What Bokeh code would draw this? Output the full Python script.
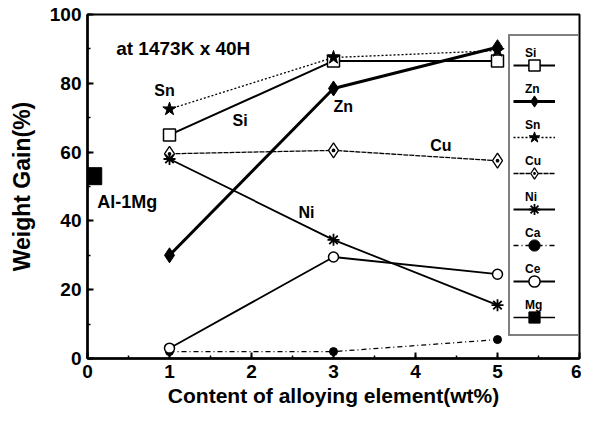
from bokeh.plotting import figure
from bokeh.models import Legend, LegendItem, Label, SingleIntervalTicker, Range1d
from bokeh.embed import file_html
from bokeh.resources import INLINE

# ---- data ----
content = [1, 3, 5]
si = [65.0, 86.5, 86.5]
zn = [30.0, 78.5, 90.5]
sn = [72.5, 87.5, 89.5]
cu = [59.5, 60.5, 57.5]
ni = [58.0, 34.5, 15.5]
ca = [2.0, 2.0, 5.5]
ce = [3.0, 29.5, 24.5]
mg_content = [0.07]
mg = [53.0]
legend_names = ["Si", "Zn", "Sn", "Cu", "Ni", "Ca", "Ce", "Mg"]

FONT = "Liberation Sans"

p = figure(width=581, height=412, output_backend="svg", toolbar_location=None,
           x_range=Range1d(0, 6), y_range=Range1d(0, 100),
           min_border_left=87, min_border_right=2, min_border_top=14, min_border_bottom=54)
p.xgrid.visible = False
p.ygrid.visible = False
p.outline_line_color = "black"
p.outline_line_width = 2
p.background_fill_color = "white"
p.border_fill_color = "white"

p.xaxis.ticker = SingleIntervalTicker(interval=1, num_minor_ticks=2)
p.yaxis.ticker = SingleIntervalTicker(interval=20, num_minor_ticks=2)
p.axis.major_tick_in = 6
p.axis.major_tick_out = 0
p.axis.minor_tick_in = 3
p.axis.minor_tick_out = 0
p.axis.axis_line_width = 2.5
p.axis.major_tick_line_width = 2
p.axis.minor_tick_line_width = 1.5
p.axis.major_label_text_font = FONT
p.axis.major_label_text_font_style = "bold"
p.axis.major_label_text_font_size = "19px"
p.axis.major_label_text_color = "black"
p.axis.major_label_standoff = 6
p.axis.axis_label_text_font = FONT
p.axis.axis_label_text_font_style = "bold"
p.axis.axis_label_text_color = "black"
p.xaxis.axis_label_text_font_size = "21px"
p.yaxis.axis_label_text_font_size = "23px"
p.xaxis.axis_label_standoff = 3
p.xaxis.axis_label = "Content of alloying element(wt%)"
p.yaxis.axis_label = "Weight Gain(%)"
p.yaxis.axis_label_standoff = 12

# ---- lines ----
l_si = p.line(content, si, line_color="black", line_width=2)
l_zn = p.line(content, zn, line_color="black", line_width=3)
l_sn = p.line(content, sn, line_color="black", line_width=1.3, line_dash="2 2")
l_cu = p.line(content, cu, line_color="black", line_width=1.3, line_dash="5 1")
l_ni = p.line(content, ni, line_color="black", line_width=1.8)
l_ca = p.line(content, ca, line_color="black", line_width=1.3, line_dash="5 3 1 3")
l_ce = p.line(content, ce, line_color="black", line_width=1.8)
l_mg = p.line(mg_content, mg, line_color="black", line_width=1.5)

# ---- markers ----
m_si = p.scatter(content, si, marker="square", size=12, fill_color="white", line_color="black", line_width=1.5)
m_zn = p.scatter(content, zn, marker="diamond", size=15, fill_color="black", line_color="black")
m_sn = p.scatter(content, sn, marker="star", size=14, fill_color="black", line_color="black")
m_cu = p.scatter(content, cu, marker="diamond_dot", size=15, fill_color="white", line_color="black", line_width=1.3)
m_ni = p.scatter(content, ni, marker="asterisk", size=12, line_color="black", line_width=1.8)
m_ca = p.scatter(content, ca, marker="circle", size=8, fill_color="black", line_color="black")
m_ce = p.scatter(content, ce, marker="circle", size=10, fill_color="white", line_color="black", line_width=1.5)
m_mg = p.scatter(mg_content, mg, marker="square", size=17, fill_color="black", line_color="black")

# ---- annotations ----
def lab(x, y, t, align="center", size="16px"):
    p.add_layout(Label(x=x, y=y, text=t, text_font=FONT, text_font_style="bold",
                       text_font_size=size, text_align=align, text_baseline="middle",
                       text_color="black"))

lab(0.35, 90, "at 1473K x 40H", align="left", size="19px")
lab(0.94, 78, "Sn")
lab(1.86, 69.2, "Si")
lab(3.12, 73.2, "Zn")
lab(4.31, 61.8, "Cu")
lab(2.67, 42.5, "Ni")
lab(0.12, 45.6, "Al-1Mg", align="left", size="18px")

# ---- legend: glyph samples (with box) ----
pairs = [(l_si, m_si), (l_zn, m_zn), (l_sn, m_sn), (l_cu, m_cu),
         (l_ni, m_ni), (l_ca, m_ca), (l_ce, m_ce), (l_mg, m_mg)]
glyph_items = [LegendItem(label=" ", renderers=[a, b]) for a, b in pairs]
leg_g = Legend(items=glyph_items, location=(421, 22), orientation="vertical",
               glyph_width=42, glyph_height=28, spacing=8, padding=3, margin=0,
               label_standoff=0, label_width=20, label_height=10,
               title=" ", title_text_font_size="10px", title_standoff=1,
               border_line_color="black", border_line_width=2,
               background_fill_color="white", background_fill_alpha=1)
p.add_layout(leg_g)

# ---- legend: labels above samples ----
blank = p.line(x=[], y=[], line_alpha=0)
label_items = [LegendItem(label=n, renderers=[blank]) for n in legend_names]
leg_l = Legend(items=label_items, location=(428, 46), orientation="vertical",
               glyph_width=10, glyph_height=14, label_height=14, label_width=10,
               label_standoff=0, spacing=22, padding=0, margin=0,
               border_line_alpha=0, background_fill_alpha=0,
               label_text_font=FONT, label_text_font_style="bold",
               label_text_font_size="12px", label_text_color="black")
p.add_layout(leg_l)

open("out.html", "w").write(file_html(p, INLINE))
